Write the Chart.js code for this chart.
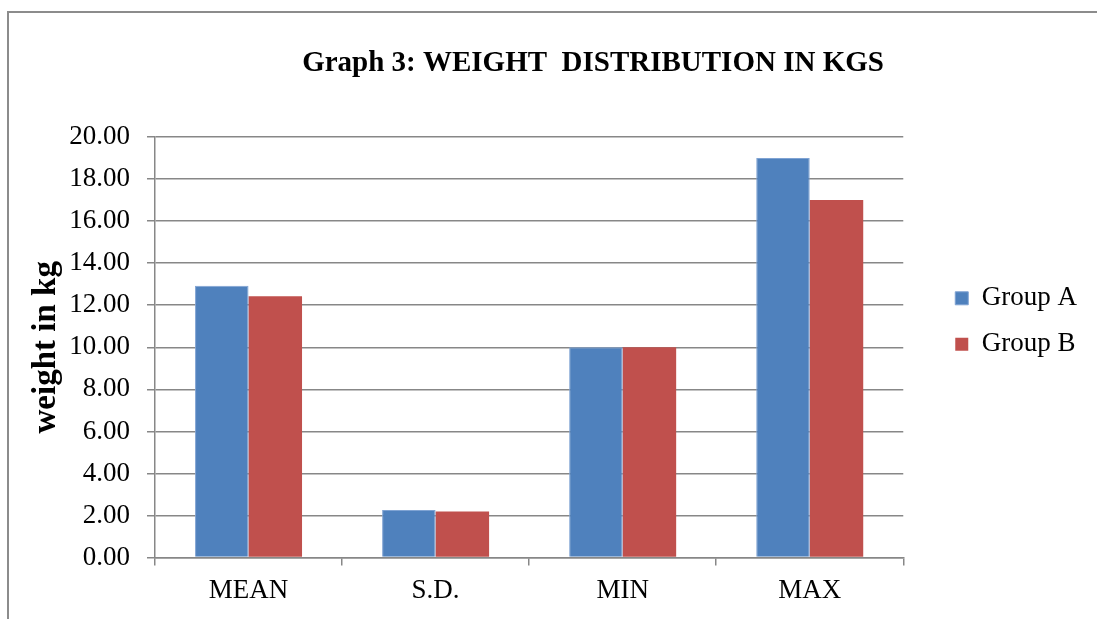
<!DOCTYPE html>
<html>
<head>
<meta charset="utf-8">
<script src="https://cdn.jsdelivr.net/npm/chart.js@4.4.1/dist/chart.umd.min.js"></script>
<style>
  html, body { margin: 0; padding: 0; background: #fff; }
  #wrap { width: 1097px; height: 619px; }
</style>
</head>
<body>
<div id="wrap"><canvas id="myChart" width="1097" height="619"></canvas></div>
<script>
// chart data
const chartTitle = 'Graph 3: WEIGHT  DISTRIBUTION IN KGS';
const categories = ['MEAN', 'S.D.', 'MIN', 'MAX'];
const groupA = [12.93, 2.26, 10.0, 19.0];
const groupB = [12.43, 2.19, 10.0, 17.0];
const seriesNames = ['Group A', 'Group B'];
const yTitle = 'weight in kg';

const serif = '"Liberation Serif", "Times New Roman", serif';
Chart.defaults.font.family = serif;
Chart.defaults.color = '#000';

// frame + title drawn on the canvas
const headline = {
    id: 'headline',
    beforeDraw(chart) {
        const c = chart.ctx;
        c.save();
        c.strokeStyle = '#8c8c8c';
        c.lineWidth = 2;
        c.beginPath();
        c.moveTo(8, chart.height);
        c.lineTo(8, 12);
        c.lineTo(chart.width, 12);
        c.stroke();
        c.font = 'bold 29px ' + serif;
        c.fillStyle = '#000';
        c.textAlign = 'center';
        c.textBaseline = 'middle';
        c.fillText(chartTitle, 593, 64);
        c.restore();
    }
};

// move the legend a bit to sit where the original has it
const legendNudge = {
    id: 'legendNudge',
    afterLayout(chart) {
        const lg = chart.legend;
        lg.left += 33; lg.right += 33;
        lg.top -= 26; lg.bottom -= 26;
    }
};

const ctx = document.getElementById('myChart').getContext('2d');
const myChart = new Chart(ctx, {
    type: 'bar',
    data: {
        labels: categories,
        datasets: [{
            label: seriesNames[0],
            data: groupA,
            backgroundColor: '#4F81BD',
            borderColor: '#7fa3d3',
            borderWidth: 1
        }, {
            label: seriesNames[1],
            data: groupB,
            backgroundColor: '#C0504D',
            borderWidth: 0
        }]
    },
    options: {
        responsive: false,
        animation: false,
        devicePixelRatio: 1,
        layout: { padding: { top: 137, left: 0, right: 43, bottom: 3 } },
        datasets: { bar: { categoryPercentage: 0.572, barPercentage: 1.0 } },
        plugins: {
            title: { display: false },
            tooltip: { enabled: false },
            legend: {
                position: 'right',
                fullSize: false,
                align: 'center',
                labels: {
                    boxWidth: 13,
                    boxHeight: 13,
                    padding: 19,
                    font: { size: 27 }
                }
            }
        },
        scales: {
            x: {
                grid: {
                    display: true,
                    offset: true,
                    drawOnChartArea: false,
                    drawTicks: true,
                    tickLength: 8,
                    color: '#878787',
                    lineWidth: 1.5
                },
                border: { color: '#878787', width: 1.5 },
                ticks: { font: { size: 27 }, padding: 9, maxRotation: 0 }
            },
            y: {
                min: 0,
                max: 20,
                afterFit: (scale) => { scale.width = 155; },
                grid: {
                    color: '#878787',
                    lineWidth: 1.5,
                    drawTicks: true,
                    tickLength: 8
                },
                border: { color: '#878787', width: 1.5 },
                ticks: {
                    stepSize: 2,
                    padding: 17,
                    font: { size: 27 },
                    callback: (v) => Number(v).toFixed(2)
                },
                title: {
                    display: true,
                    text: yTitle,
                    font: { size: 33, weight: 'bold' },
                    padding: { top: 27, bottom: 0 }
                }
            }
        }
    },
    plugins: [headline, legendNudge]
});
</script>
</body>
</html>
